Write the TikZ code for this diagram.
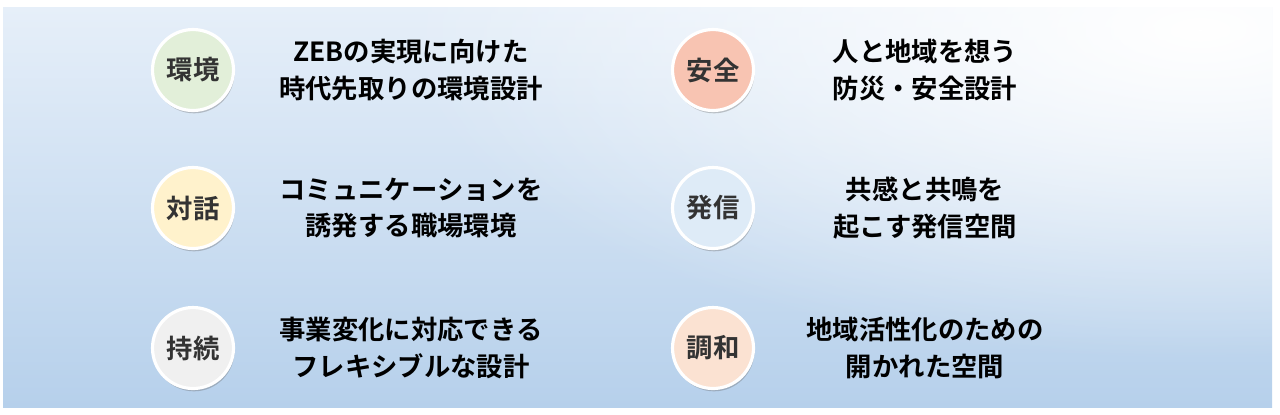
\documentclass[tikz,border=0pt]{standalone}
\usepackage{fontspec}
\setmainfont{Noto Sans CJK JP}[BoldFont={* Bold}]
\usetikzlibrary{shadows,fadings}

\definecolor{kankyo}{RGB}{226,239,217}
\definecolor{taiwa}{RGB}{255,242,204}
\definecolor{jizoku}{RGB}{240,240,240}
\definecolor{anzen}{RGB}{248,196,178}
\definecolor{hasshin}{RGB}{222,235,247}
\definecolor{chowa}{RGB}{251,226,210}
\definecolor{bgtop}{RGB}{230,239,249}
\definecolor{bgmid}{RGB}{202,222,241}
\definecolor{bgbottom}{RGB}{182,208,235}

\tikzfading[name=softglow, inner color=transparent!0, outer color=transparent!100]

\begin{document}
\begin{tikzpicture}[x=0.02cm, y=-0.02cm,
  key/.style = {circle, inner sep=0pt, draw=white, line width=1.8pt,
    minimum size=1.62cm, font=\bfseries\fontsize{15}{16}\selectfont, text=black!80,
    drop shadow={shadow xshift=0.6pt, shadow yshift=-1.6pt, opacity=0.35, fill=black!60}},
  desc/.style = {align=center, font=\bfseries\fontsize{15}{21}\selectfont, text=black}]
\useasboundingbox (0,0) rectangle (1280,414);
\fill[white] (0,0) rectangle (1280,414);
\shade[top color=bgtop, middle color=bgmid, bottom color=bgbottom] (3,7) rectangle (1272,407);
\begin{scope}
\clip (3,7) rectangle (1272,407);
\fill[white, path fading=softglow] (1200,30) ellipse (800 and 330);
\end{scope}

% left column
\node[key, fill=kankyo] (k1) at (193,70) {環境};
\node[key, fill=taiwa] (k2) at (193,208) {対話};
\node[key, fill=jizoku] (k3) at (193,348) {持続};
\node[desc] (d1) at (411,70) {ZEBの実現に向けた\\時代先取りの環境設計};
\node[desc] (d2) at (411,208) {コミュニケーションを\\誘発する職場環境};
\node[desc] (d3) at (411,348) {事業変化に対応できる\\フレキシブルな設計};

% right column
\node[key, fill=anzen] (k4) at (713,70) {安全};
\node[key, fill=hasshin] (k5) at (713,208) {発信};
\node[key, fill=chowa] (k6) at (713,348) {調和};
\node[desc] (d4) at (925,70) {人と地域を想う\\防災・安全設計};
\node[desc] (d5) at (925,208) {共感と共鳴を\\起こす発信空間};
\node[desc] (d6) at (925,348) {地域活性化のための\\開かれた空間};
\end{tikzpicture}
\end{document}
